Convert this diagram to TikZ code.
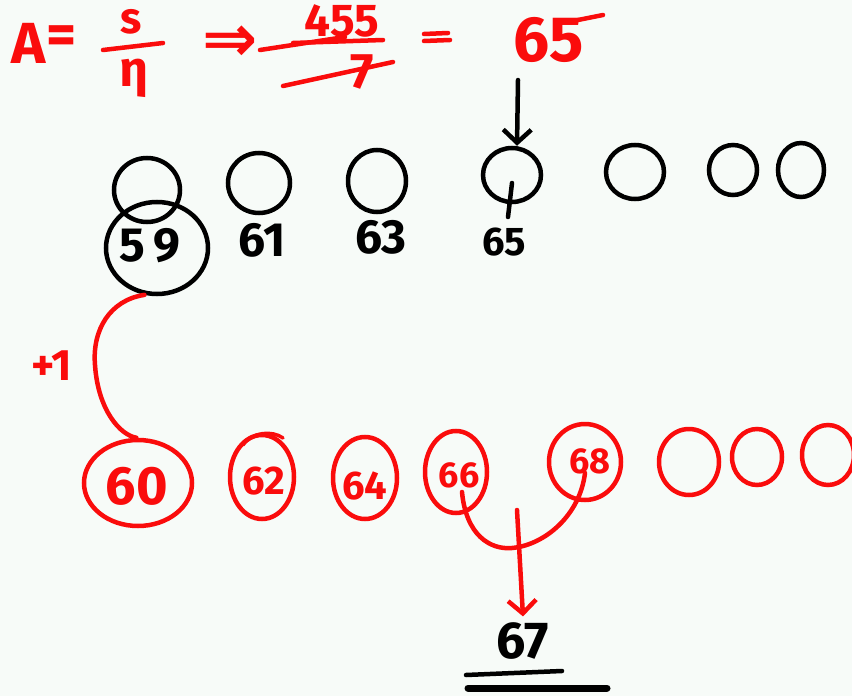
\documentclass[tikz,border=0pt]{standalone}
\usepackage{fontspec}
\setmainfont{Fira Sans}
\newfontfamily\arrowfont{DejaVu Sans}
\usetikzlibrary{shapes.geometric,arrows.meta}
\definecolor{pen}{RGB}{250,12,12}
\definecolor{paper}{RGB}{247,251,248}
\tikzset{
  ink/.style={line width=4.5pt, line cap=round, line join=round},
  blk/.style={ink, draw=black},
  rd/.style={ink, draw=pen},
  ringb/.style={ellipse, draw=black, line width=4.5pt, inner sep=0pt},
  ringr/.style={ellipse, draw=pen, line width=4.5pt, inner sep=0pt},
  numb/.style={inner sep=0pt, text=black, font=\bfseries\fontsize{#1}{#1}\selectfont},
  numr/.style={inner sep=0pt, text=pen, font=\bfseries\fontsize{#1}{#1}\selectfont},
  barb/.style={-{Straight Barb[length=13pt,width=28pt,line width=4.5pt]}}
}
\begin{document}
\begin{tikzpicture}[x=1pt,y=-1pt]
\fill[paper] (0,0) rectangle (852,696);
\useasboundingbox (0,0) rectangle (852,696);
\begin{scope}
\clip (0,0) rectangle (852,696);

% ---- formula at the top ----
\node[numr=58] (fA) at (29,43) {A};
\node[numr=58] (fEq) at (62,40) {=};
\node[numr=44] (fs) at (131,22) {s};
\draw[rd] (103,50) -- (163,43);
\node[numr=50] (feta) at (134,78) {η};
\node[inner sep=0pt, text=pen, font=\arrowfont\bfseries\fontsize{66}{66}\selectfont] (fImp) at (230,44) {⇒};
\node[numr=46] (f455) at (342,21) {455};
\draw[rd] (260,50) -- (345,37);
\draw[rd] (293,43) -- (383,40);
\node[numr=50] (f7) at (362,72) {7};
\draw[rd] (283,86) -- (393,62);
\draw[rd] (424,34) -- (448,33);
\draw[rd] (424,41) -- (450,40);
\node[numr=64] (f65) at (549,40) {65};
\draw[rd] (578,20) -- (603,15);

% ---- black row ----
\node[ringb, minimum width=66pt, minimum height=64pt] (b1) at (147,190) {};
\node[ringb, minimum width=102pt, minimum height=92pt] (b59) at (157,248) {};
\node[ringb, minimum width=62pt, minimum height=60pt] (b2) at (259,183) {};
\node[ringb, minimum width=58pt, minimum height=62pt] (b3) at (377,181) {};
\node[ringb, minimum width=58pt, minimum height=54pt] (b4) at (512,175) {};
\node[ringb, minimum width=58pt, minimum height=54pt] (b5) at (635,172) {};
\node[ringb, minimum width=48pt, minimum height=50pt] (b6) at (733,170) {};
\node[ringb, minimum width=46pt, minimum height=54pt] (b7) at (801,170) {};

\node[numb=48] (l59) at (150,246) {5\,9};
\node[numb=48] (l61) at (262,240) {61};
\node[numb=48] (l63) at (381,237) {63};
\node[numb=40] (l65) at (504,242) {65};

\coordinate (arrTop) at (518,80);
\draw[blk, barb] (arrTop) -- ([xshift=5pt]b4.north);
\draw[blk] (b4.center) ++(0,8) -- ++(-4,34);

% ---- red row ----
\node[ringr, minimum width=108pt, minimum height=86pt] (r60) at (138,483) {};
\node[ringr, minimum width=64pt, minimum height=84pt] (r62) at (262,477) {};
\draw[rd, line width=3.5pt] (243,445) .. controls (252,432) and (272,430) .. (283,438);
\node[ringr, minimum width=64pt, minimum height=82pt] (r64) at (365,478) {};
\node[ringr, minimum width=62pt, minimum height=82pt] (r66) at (456,472) {};
\node[ringr, minimum width=72pt, minimum height=76pt] (r68) at (585,462) {};
\node[ringr, minimum width=60pt, minimum height=66pt] (r70) at (689,462) {};
\node[ringr, minimum width=50pt, minimum height=56pt] (r72) at (757,457) {};
\node[ringr, minimum width=52pt, minimum height=60pt] (r74) at (828,455) {};

\node[numr=54] (l60) at (137,486) {60};
\node[numr=40] (l62) at (264,481) {62};
\node[numr=40] (l64) at (365,486) {64};
\node[numr=36] (l66) at (459,475) {66};
\node[numr=36] (l68) at (590,461) {68};

% +1 link from 59 down to 60
\node[numr=44] (plus) at (52,366) {+1};
\draw[rd] (b59.255) .. controls (110,300) and (92,330) .. (95,365)
          .. controls (98,410) and (120,435) .. (r60.92);

% 66 and 68 merge into 67
\coordinate (s66) at (462,492);
\coordinate (s68) at (585,473);
\coordinate (vTop) at (517,510);
\draw[rd] (s66) .. controls (466,535) and (490,550) .. (512,548)
          .. controls (545,545) and (580,515) .. (s68);
\node[numb=52] (l67) at (523,641) {67};
\draw[rd, barb] (vTop) -- ([yshift=6pt]l67.north);

\draw[blk] (466,675) -- (562,671);
\draw[ink, line width=7pt, draw=black] (468,688) -- (607,688);
\end{scope}
\end{tikzpicture}
\end{document}
